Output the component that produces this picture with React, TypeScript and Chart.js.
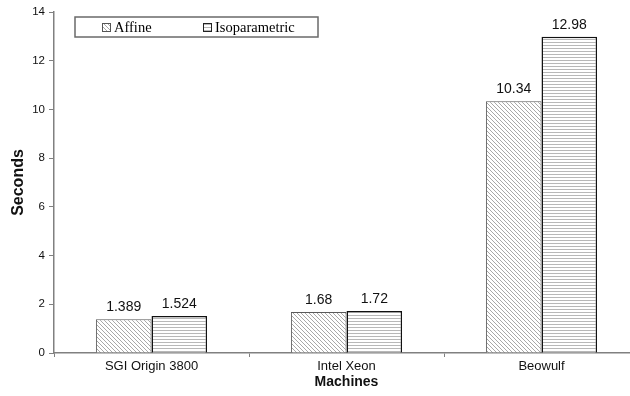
import React, { useEffect, useRef } from 'react';
import { Chart, registerables } from 'chart.js';

Chart.register(...registerables);

const categories = ['SGI Origin 3800', 'Intel Xeon', 'Beowulf'];
const seriesNames = ['Affine', 'Isoparametric'];
const affineValues = [1.389, 1.68, 10.34];
const isoValues = [1.524, 1.72, 12.98];
const yMin = 0;
const yMax = 14;
const yStep = 2;
const xTitle = 'Machines';
const yTitle = 'Seconds';

function makeDiagPattern(ctx: CanvasRenderingContext2D): CanvasPattern | string {
  const c = document.createElement('canvas');
  c.width = 4;
  c.height = 4;
  const g = c.getContext('2d')!;
  g.fillStyle = '#ffffff';
  g.fillRect(0, 0, 4, 4);
  g.strokeStyle = '#a8a8a8';
  g.lineWidth = 1;
  g.beginPath();
  g.moveTo(-1, -1); g.lineTo(5, 5);
  g.moveTo(-1, 3); g.lineTo(1, 5);
  g.moveTo(3, -1); g.lineTo(5, 1);
  g.stroke();
  return ctx.createPattern(c, 'repeat') || '#ddd';
}

function makeHorizPattern(ctx: CanvasRenderingContext2D): CanvasPattern | string {
  const c = document.createElement('canvas');
  c.width = 4;
  c.height = 3;
  const g = c.getContext('2d')!;
  g.fillStyle = '#ffffff';
  g.fillRect(0, 0, 4, 3);
  g.fillStyle = '#b8b8b8';
  g.fillRect(0, 0, 4, 1);
  return ctx.createPattern(c, 'repeat') || '#ddd';
}

export default function App() {
  const ref = useRef<HTMLCanvasElement | null>(null);

  useEffect(() => {
    const canvas = ref.current;
    if (!canvas) return;
    const ctx = canvas.getContext('2d')!;
    const diag = makeDiagPattern(ctx);
    const horiz = makeHorizPattern(ctx);

    const valueLabels = {
      id: 'valueLabels',
      afterDatasetsDraw(chart: any) {
        const c = chart.ctx;
        c.save();
        c.font = '14px "Liberation Sans", Arial, sans-serif';
        c.fillStyle = '#111';
        c.textAlign = 'center';
        c.textBaseline = 'bottom';
        chart.data.datasets.forEach((ds: any, di: number) => {
          const meta = chart.getDatasetMeta(di);
          meta.data.forEach((el: any, i: number) => {
            c.fillText(String(ds.data[i]), el.x, el.y - 5);
          });
        });
        c.restore();
      },
    };

    const boxLegend = {
      id: 'boxLegend',
      afterDraw(chart: any) {
        const c = chart.ctx;
        c.save();
        c.fillStyle = '#ffffff';
        c.fillRect(75, 17, 243, 20);
        c.strokeStyle = '#6a6a6a';
        c.lineWidth = 1.5;
        c.strokeRect(75, 17, 243, 20);
        const items = [
          { x: 102, fill: diag, border: '#555' },
          { x: 203, fill: horiz, border: '#222' },
        ];
        c.font = '14.5px "Liberation Serif", "Times New Roman", serif';
        c.textBaseline = 'middle';
        c.textAlign = 'left';
        items.forEach((it, i) => {
          c.fillStyle = it.fill;
          c.fillRect(it.x, 23, 9, 9);
          c.strokeStyle = it.border;
          c.lineWidth = 1;
          c.strokeRect(it.x + 0.5, 23.5, 8, 8);
          c.fillStyle = '#000';
          c.fillText(chart.data.datasets[i].label, it.x + 12, 28);
        });
        c.restore();
      },
    };

    const chart = new Chart(ctx, {
      type: 'bar',
      data: {
        labels: categories,
        datasets: [
          {
            label: seriesNames[0],
            data: affineValues,
            backgroundColor: diag as any,
            borderColor: '#5a5a5a',
            borderWidth: 1,
          },
          {
            label: seriesNames[1],
            data: isoValues,
            backgroundColor: horiz as any,
            borderColor: '#111111',
            borderWidth: 1.5,
          },
        ],
      },
      options: {
        responsive: false,
        animation: false,
        devicePixelRatio: 1,
        layout: { padding: { top: 12, left: 0, right: 0, bottom: 0 } },
        plugins: {
          legend: { display: false },
          tooltip: { enabled: false },
        },
        datasets: {
          bar: { categoryPercentage: 0.57, barPercentage: 1 },
        },
        scales: {
          x: {
            afterFit(scale: any) { scale.height = 43; },
            grid: { drawOnChartArea: false, drawTicks: true, tickLength: 4, color: '#808080', lineWidth: 1 },
            border: { display: true, color: '#808080', width: 1.5 },
            ticks: {
              color: '#111',
              font: { size: 13, family: '"Liberation Sans", Arial, sans-serif' },
              padding: 2,
            },
            title: {
              display: true,
              text: xTitle,
              color: '#111',
              font: { size: 14, weight: 'bold', family: '"Liberation Sans", Arial, sans-serif' },
              padding: { top: 0, bottom: 5 },
            },
          },
          y: {
            min: yMin,
            max: yMax,
            afterFit(scale: any) { scale.width = 54; },
            grid: { drawOnChartArea: false, drawTicks: true, tickLength: 5, color: '#808080', lineWidth: 1 },
            border: { display: true, color: '#808080', width: 1.5 },
            ticks: {
              stepSize: yStep,
              color: '#111',
              font: { size: 11.5, family: '"Liberation Sans", Arial, sans-serif' },
              padding: 4,
            },
            title: {
              display: true,
              text: yTitle,
              color: '#111',
              font: { size: 16, weight: 'bold', family: '"Liberation Sans", Arial, sans-serif' },
              padding: { top: 9, bottom: 0 },
            },
          },
        },
      },
      plugins: [valueLabels, boxLegend],
    });

    return () => chart.destroy();
  }, []);

  return (
    <div style={{ position: 'absolute', left: 0, top: 0, width: 630, height: 396, overflow: 'hidden', background: '#fff' }}>
      <canvas ref={ref} width={639} height={396} style={{ width: 639, height: 396, display: 'block' }} />
    </div>
  );
}
